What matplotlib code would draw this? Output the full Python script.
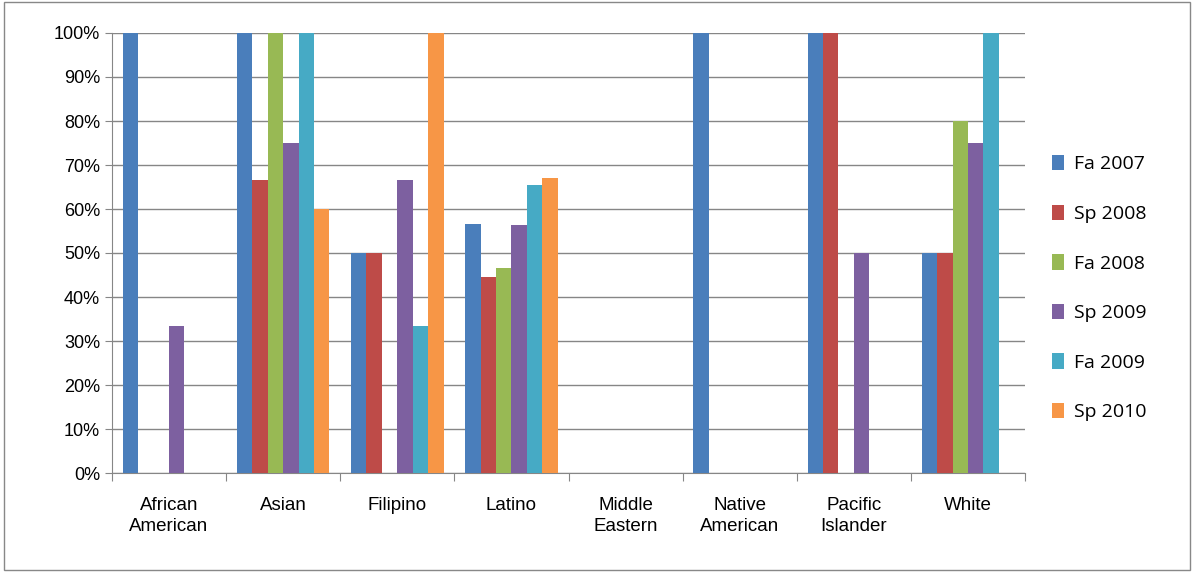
import numpy as np
import matplotlib.pyplot as plt
from matplotlib.patches import Rectangle

plt.rcParams['font.family'] = ['Liberation Sans', 'DejaVu Sans']

categories = ['African\nAmerican', 'Asian', 'Filipino', 'Latino', 'Middle\nEastern',
              'Native\nAmerican', 'Pacific\nIslander', 'White']
series = ['Fa 2007', 'Sp 2008', 'Fa 2008', 'Sp 2009', 'Fa 2009', 'Sp 2010']
fa2007 = [100, 100, 50, 56.5, 0, 100, 100, 50]
sp2008 = [0, 66.7, 50, 44.5, 0, 0, 100, 50]
fa2008 = [0, 100, 0, 46.5, 0, 0, 0, 80]
sp2009 = [33.3, 75, 66.7, 56.3, 0, 0, 50, 75]
fa2009 = [0, 100, 33.3, 65.5, 0, 0, 0, 100]
sp2010 = [0, 60, 100, 67, 0, 0, 0, 0]
values = [fa2007, sp2008, fa2008, sp2009, fa2009, sp2010]
colors = ['#4A7EBB', '#BE4B48', '#98B954', '#7D60A0', '#46AAC5', '#F79646']

fig = plt.figure(figsize=(11.94, 5.72), dpi=100)
fig.patches.append(Rectangle((0.003, 0.003), 0.994, 0.994, transform=fig.transFigure,
                             fill=False, edgecolor='#888888', lw=1))
ax = fig.add_axes([112/1194, 1-473/572, 913/1194, 440/572])

x = np.arange(len(categories))
w = 0.135
for i, (name, vals) in enumerate(zip(series, values)):
    ax.bar(x + (i - 2.5) * w, vals, w, color=colors[i], label=name, zorder=3)

ax.set_xlim(-0.5, len(categories) - 0.5)
ax.set_ylim(0, 100)
ax.set_yticks(range(0, 101, 10))
ax.set_yticklabels([f'{v}%' for v in range(0, 101, 10)], fontsize=13)
ax.yaxis.grid(True, color='#868686', lw=1, zorder=0)
ax.set_xticks(np.arange(-0.5, len(categories)))
ax.set_xticklabels([])
ax.tick_params(axis='x', length=6, color='#868686')
ax.tick_params(axis='y', length=5, color='#868686')
for i, c in enumerate(categories):
    ax.text(i, -5.5, c, ha='center', va='top', fontsize=13.5, linespacing=1.3)
for s in ['top', 'right']:
    ax.spines[s].set_visible(False)
for s in ['left', 'bottom']:
    ax.spines[s].set_color('#868686')

ax.legend(loc='center left', bbox_to_anchor=(1.01, 0.42), frameon=False,
          prop={'family': 'Open Sans', 'size': 14}, handlelength=0.65,
          handleheight=0.85, labelspacing=1.6, handletextpad=0.5)
fig.savefig('out.png', dpi=100)
